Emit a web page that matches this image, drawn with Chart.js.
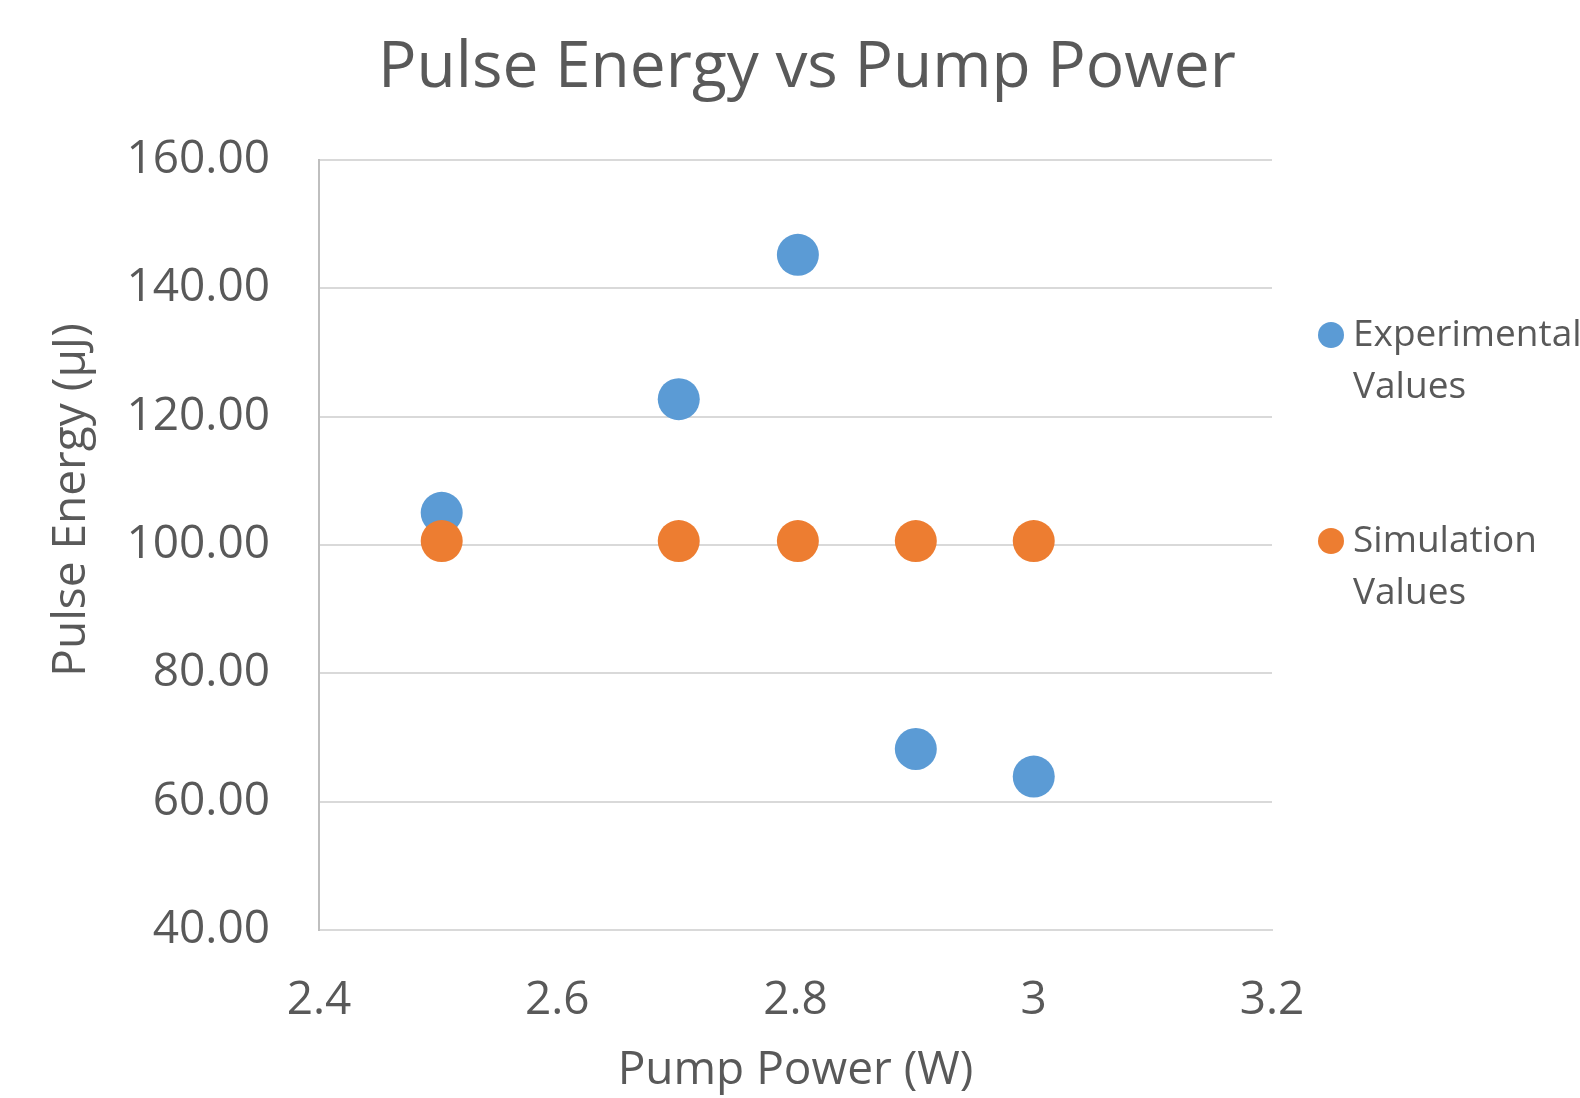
<!DOCTYPE html>
<html>
<head>
<meta charset="utf-8">
<script src="https://cdn.jsdelivr.net/npm/chart.js@4.4.1/dist/chart.umd.min.js"></script>
<style>
html,body{margin:0;padding:0;background:#fff;}
#wrap{width:1580px;height:1098px;}
</style>
</head>
<body>
<div id="wrap"><canvas id="c" width="1580" height="1098"></canvas></div>
<script>
const pumpPower = [2.503, 2.702, 2.802, 2.901, 3.0];
const experimentalValues = [105.0, 122.7, 145.2, 68.2, 63.9];
const simulationValues = [100.6, 100.6, 100.6, 100.6, 100.6];
const seriesNames = ['Experimental Values', 'Simulation Values'];
const xTickLabels = ['2.4', '2.6', '2.8', '3', '3.2'];
const yTickLabels = ['40.00', '60.00', '80.00', '100.00', '120.00', '140.00', '160.00'];
const chartTitle = 'Pulse Energy vs Pump Power';
const xAxisTitle = 'Pump Power (W)';
const yAxisTitle = 'Pulse Energy (µJ)';

const TEXT = '#595959';
const FONT = "'Open Sans', 'Noto Sans', sans-serif";
const colors = ['#5b9bd5', '#ed7d31'];

function pts(xs, ys){ return xs.map((x,i)=>({x:x, y:ys[i]})); }

const sidePlugin = {
  id: 'sideLegend',
  afterDraw(chart){
    const ctx = chart.ctx;
    const items = [{y: 335}, {y: 541}];
    ctx.save();
    ctx.font = '46px ' + FONT;
    ctx.fillStyle = TEXT;
    ctx.textAlign = 'center';
    ctx.textBaseline = 'middle';
    ctx.translate(72, 500);
    ctx.rotate(-Math.PI/2);
    ctx.fillText(yAxisTitle, 0, 0);
    ctx.restore();

    ctx.save();
    ctx.font = '37px ' + FONT;
    ctx.textBaseline = 'middle';
    ctx.textAlign = 'left';
    chart.data.datasets.forEach((ds, i) => {
      const y0 = items[i].y;
      ctx.beginPath();
      ctx.fillStyle = ds.backgroundColor;
      ctx.arc(1331, y0, 13, 0, Math.PI*2);
      ctx.fill();
      ctx.fillStyle = TEXT;
      const lines = ds.label.split(' ');
      lines.forEach((ln, k) => ctx.fillText(ln, 1353, y0 + k*52));
    });
    ctx.restore();
  }
};

new Chart(document.getElementById('c'), {
  type: 'scatter',
  data: {
    datasets: [
      {label: seriesNames[0], data: pts(pumpPower, experimentalValues), backgroundColor: colors[0], borderColor: colors[0], pointRadius: 21, pointHoverRadius: 21, borderWidth: 0, order: 1},
      {label: seriesNames[1], data: pts(pumpPower, simulationValues), backgroundColor: colors[1], borderColor: colors[1], pointRadius: 21, pointHoverRadius: 21, borderWidth: 0, order: 0}
    ]
  },
  options: {
    responsive: false,
    animation: false,
    layout: {padding: {left: 34, right: 0, top: 0, bottom: 0}},
    plugins: {
      legend: {display: false},
      tooltip: {enabled: false},
      title: {
        display: true,
        text: chartTitle,
        color: TEXT,
        font: {family: FONT, size: 64, weight: 'normal'},
        padding: {top: 30, bottom: 53}
      }
    },
    scales: {
      x: {
        type: 'linear',
        min: 2.4, max: 3.2,
        afterFit(scale){ scale.height = 168; },
        grid: {display: false, drawTicks: false},
        border: {display: true, color: '#d9d9d9', width: 2},
        ticks: {
          stepSize: 0.2,
          padding: 43,
          color: TEXT,
          font: {family: FONT, size: 46},
          callback: (v, i) => xTickLabels[i]
        },
        title: {display: true, text: xAxisTitle, color: TEXT, font: {family: FONT, size: 46}, padding: {top: 0, bottom: 0}}
      },
      y: {
        type: 'linear',
        min: 40, max: 160,
        afterFit(scale){ scale.width = 285; },
        grid: {color: '#d9d9d9', lineWidth: 2, drawTicks: false},
        border: {display: true, color: '#bfbfbf', width: 2},
        ticks: {
          stepSize: 20,
          padding: 49,
          color: TEXT,
          font: {family: FONT, size: 46},
          callback: (v, i) => yTickLabels[i]
        },
        title: {display: false}
      },
      legendSpace: {
        type: 'linear',
        position: 'right',
        afterFit(scale){ scale.width = 308; },
        grid: {display: false, drawTicks: false},
        border: {display: false},
        ticks: {display: false}
      }
    }
  },
  plugins: [sidePlugin]
});
</script>
</body>
</html>
